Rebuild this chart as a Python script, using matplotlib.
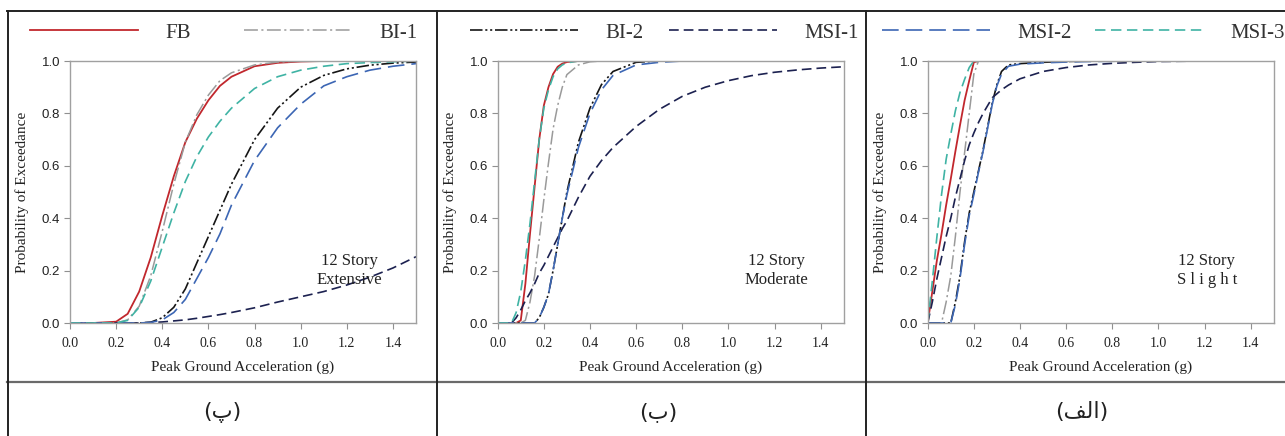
import matplotlib
matplotlib.use("Agg")
import matplotlib.pyplot as plt
from matplotlib.lines import Line2D

# ---------------- data ----------------
series_names = ["FB", "BI-1", "BI-2", "MSI-1", "MSI-2", "MSI-3"]
x_ticks = [0.0, 0.2, 0.4, 0.6, 0.8, 1.0, 1.2, 1.4]
y_ticks = [0.0, 0.2, 0.4, 0.6, 0.8, 1.0]
state_labels = ["12 Story\nExtensive", "12 Story\nModerate", "12 Story\nS l i g h t"]
# Persian captions (پ) (ب) (الف) – written in visual order with Arabic presentation forms
captions = ["(\u067E)", "(\u0628)", "(\uFED2\uFEDF\uFE8D)"]
x_label = "Peak Ground Acceleration (g)"
y_label = "Probability of Exceedance"

# Extensive
pga_ext = [0, 0.1, 0.2, 0.25, 0.3, 0.35, 0.4, 0.45, 0.5, 0.55, 0.6, 0.65, 0.7,
           0.8, 0.9, 1.0, 1.1, 1.2, 1.3, 1.4, 1.5]
fb_ext = [0, 0, 0.005, 0.035, 0.12, 0.25, 0.41, 0.56, 0.69, 0.78, 0.85, 0.905, 0.94,
          0.98, 0.993, 0.998, 1, 1, 1, 1, 1]
bi1_ext = [0, 0, 0, 0.012, 0.064, 0.18, 0.35, 0.53, 0.69, 0.795, 0.87, 0.925, 0.955,
           0.985, 0.996, 1, 1, 1, 1, 1, 1]
bi2_ext = [0, 0, 0, 0, 0, 0.003, 0.02, 0.06, 0.13, 0.23, 0.33, 0.43, 0.53,
           0.7, 0.82, 0.9, 0.945, 0.97, 0.984, 0.992, 0.996]
msi1_ext = [0, 0, 0, 0, 0, 0.002, 0.004, 0.008, 0.012, 0.018, 0.025, 0.032, 0.04,
            0.058, 0.08, 0.1, 0.12, 0.145, 0.175, 0.21, 0.253]
msi2_ext = [0, 0, 0, 0, 0, 0.002, 0.012, 0.04, 0.09, 0.17, 0.25, 0.34, 0.45,
            0.62, 0.745, 0.835, 0.905, 0.94, 0.965, 0.98, 0.99]
msi3_ext = [0, 0, 0, 0.01, 0.06, 0.16, 0.29, 0.42, 0.54, 0.635, 0.71, 0.77, 0.82,
            0.895, 0.94, 0.965, 0.98, 0.99, 0.994, 0.997, 1.0]

# Moderate
pga_mod = [0, 0.04, 0.06, 0.08, 0.1, 0.12, 0.14, 0.16, 0.18, 0.2, 0.22, 0.24, 0.26,
           0.28, 0.3, 0.35, 0.4, 0.45, 0.5, 0.6, 0.7, 0.8, 0.9, 1.0, 1.1, 1.2, 1.3, 1.4, 1.5]
fb_mod = [0, 0, 0, 0, 0.01, 0.15, 0.34, 0.52, 0.7, 0.83, 0.9, 0.95, 0.978,
          0.99, 0.996, 1, 1, 1, 1, 1, 1, 1, 1, 1, 1, 1, 1, 1, 1]
bi1_mod = [0, 0, 0, 0, 0, 0.01, 0.08, 0.18, 0.32, 0.47, 0.61, 0.74, 0.83,
           0.9, 0.948, 0.985, 0.997, 1, 1, 1, 1, 1, 1, 1, 1, 1, 1, 1, 1]
bi2_mod = [0, 0, 0, 0, 0, 0, 0, 0, 0.02, 0.06, 0.11, 0.2, 0.3,
           0.4, 0.5, 0.69, 0.82, 0.91, 0.96, 0.995, 1, 1, 1, 1, 1, 1, 1, 1, 1]
msi1_mod = [0, 0, 0, 0.02, 0.05, 0.085, 0.115, 0.15, 0.19, 0.22, 0.255, 0.29, 0.325,
            0.36, 0.39, 0.48, 0.56, 0.62, 0.67, 0.75, 0.815, 0.865, 0.9, 0.925,
            0.944, 0.957, 0.966, 0.973, 0.978]
msi2_mod = [0, 0, 0, 0, 0, 0, 0, 0, 0.02, 0.06, 0.11, 0.2, 0.3,
            0.4, 0.49, 0.67, 0.8, 0.89, 0.945, 0.985, 0.995, 1, 1, 1, 1, 1, 1, 1, 1]
msi3_mod = [0, 0, 0, 0.04, 0.12, 0.24, 0.38, 0.54, 0.7, 0.82, 0.89, 0.94, 0.97,
            0.985, 0.993, 1, 1, 1, 1, 1, 1, 1, 1, 1, 1, 1, 1, 1, 1]

# Slight
pga_sl = [0, 0.02, 0.04, 0.06, 0.08, 0.1, 0.12, 0.14, 0.16, 0.18, 0.2, 0.22, 0.24,
          0.26, 0.28, 0.3, 0.32, 0.35, 0.4, 0.5, 0.6, 0.7, 0.8, 0.9, 1.0, 1.2, 1.5]
fb_sl = [0, 0.12, 0.24, 0.34, 0.45, 0.55, 0.655, 0.755, 0.85, 0.925, 0.995, 1, 1,
         1, 1, 1, 1, 1, 1, 1, 1, 1, 1, 1, 1, 1, 1]
bi1_sl = [0, 0, 0, 0, 0.08, 0.18, 0.33, 0.5, 0.65, 0.8, 0.95, 1, 1,
          1, 1, 1, 1, 1, 1, 1, 1, 1, 1, 1, 1, 1, 1]
bi2_sl = [0, 0, 0, 0, 0, 0, 0.08, 0.18, 0.31, 0.42, 0.5, 0.58, 0.66,
          0.75, 0.84, 0.91, 0.96, 0.985, 0.99, 0.995, 0.998, 1, 1, 1, 1, 1, 1]
msi1_sl = [0, 0.08, 0.17, 0.25, 0.33, 0.4, 0.48, 0.55, 0.62, 0.68, 0.725, 0.765, 0.8,
           0.83, 0.86, 0.875, 0.89, 0.908, 0.932, 0.96, 0.975, 0.985, 0.991, 0.995,
           0.998, 1, 1]
msi2_sl = [0, 0, 0, 0, 0, 0, 0.07, 0.17, 0.3, 0.41, 0.49, 0.575, 0.655,
           0.745, 0.835, 0.905, 0.95, 0.98, 0.988, 0.993, 0.996, 0.998, 0.999, 1,
           1, 1, 1]
msi3_sl = [0, 0.16, 0.33, 0.49, 0.625, 0.72, 0.81, 0.88, 0.93, 0.975, 1, 1, 1,
           1, 1, 1, 1, 1, 1, 1, 1, 1, 1, 1, 1, 1, 1]

# ---------------- styles ----------------
colors = ["#c1272d", "#9a9a9a", "#151515", "#1c2150", "#3c66b4", "#3fb3a4"]
dashes = [None, (10, 2.5, 1.5, 2.5), (9, 2, 1.5, 2, 1.5, 2), (7, 3.6), (12, 5), (7.5, 4)]
widths = [1.3, 1.1, 1.2, 1.2, 1.2, 1.2]

plt.rcParams["lines.scale_dashes"] = False
SERIF = "Liberation Serif"
SANS = "Liberation Sans"

W, H = 1285, 436
fig = plt.figure(figsize=(W / 100, H / 100), dpi=100)
fig.patch.set_facecolor("white")

panels = [
    (pga_ext, [fb_ext, bi1_ext, bi2_ext, msi1_ext, msi2_ext, msi3_ext]),
    (pga_mod, [fb_mod, bi1_mod, bi2_mod, msi1_mod, msi2_mod, msi3_mod]),
    (pga_sl, [fb_sl, bi1_sl, bi2_sl, msi1_sl, msi2_sl, msi3_sl]),
]
ax_left_px = [70, 497.7, 927.7]
ax_w_px, ax_top_px, ax_h_px = 346, 61, 262
caption_x_px = [222, 658, 1082]
legend_x_px = [30, 470, 882]
legend_colsp = [2.55, 1.2, 1.1]

all_lines = []
for i, (pga, ys) in enumerate(panels):
    ax = fig.add_axes([ax_left_px[i] / W, (H - ax_top_px - ax_h_px) / H,
                       ax_w_px / W, ax_h_px / H])
    lines = []
    for k, y in enumerate(ys):
        ln, = ax.plot(pga, y, color=colors[k], lw=widths[k], label=series_names[k])
        if dashes[k] is not None:
            ln.set_dashes(dashes[k])
        lines.append(ln)
    all_lines.append(lines)
    ax.set_xlim(0, 1.5)
    ax.set_ylim(0, 1.0)
    ax.set_xticks(x_ticks)
    ax.set_yticks(y_ticks)
    ax.set_xticklabels([f"{v:.1f}" for v in x_ticks], fontfamily=SERIF, fontsize=10)
    ax.set_yticklabels([f"{v:.1f}" for v in y_ticks], fontfamily=SANS, fontsize=9.5)
    for s in ax.spines.values():
        s.set_color("#a0a0a0")
        s.set_linewidth(1.0)
    ax.tick_params(direction="out", length=4, width=0.8, color="#909090",
                   labelcolor="#222222", pad=3)
    ax.tick_params(axis="x", pad=6)
    ax.set_xlabel(x_label, fontfamily=SERIF, fontsize=11, color="#222222", labelpad=8)
    ax.set_ylabel(y_label, fontfamily=SERIF, fontsize=11, color="#222222", labelpad=9)
    ax.text(1.21, 0.20, state_labels[i], ha="center", va="center",
            fontfamily=SERIF, fontsize=12, color="#222222", linespacing=1.2)

    # caption row
    fig.text(caption_x_px[i] / W, 1 - 412 / H, captions[i], ha="center", va="center",
             fontfamily="DejaVu Sans", fontsize=16, color="#222222")

# legends (one row across the top, two entries per panel)
legend_pairs = [(0, 1), (2, 3), (4, 5)]
for i, (a, b) in enumerate(legend_pairs):
    lines = all_lines[i]
    fig.legend([lines[a], lines[b]], [series_names[a], series_names[b]],
               loc="center left", bbox_to_anchor=(legend_x_px[i] / W, 1 - 33 / H),
               ncol=2, frameon=False, borderpad=0, borderaxespad=0,
               handlelength=5.2, handletextpad=1.3, columnspacing=legend_colsp[i],
               prop={"family": SERIF, "size": 15}, labelcolor="#333333")

# table borders
def hline(y, x0, x1, color, lw):
    fig.add_artist(Line2D([x0 / W, x1 / W], [1 - y / H, 1 - y / H],
                          transform=fig.transFigure, color=color, lw=lw))

def vline(x, y0, y1, color, lw):
    fig.add_artist(Line2D([x / W, x / W], [1 - y0 / H, 1 - y1 / H],
                          transform=fig.transFigure, color=color, lw=lw))

hline(11.5, 7, W, "#222222", 1.4)
hline(381.5, 7, W, "#6a6a6a", 1.6)
vline(7.5, 11, H, "#222222", 1.4)
vline(436.5, 11, H, "#222222", 1.4)
vline(865.5, 11, H, "#222222", 1.4)

fig.savefig("out.png", dpi=100)
